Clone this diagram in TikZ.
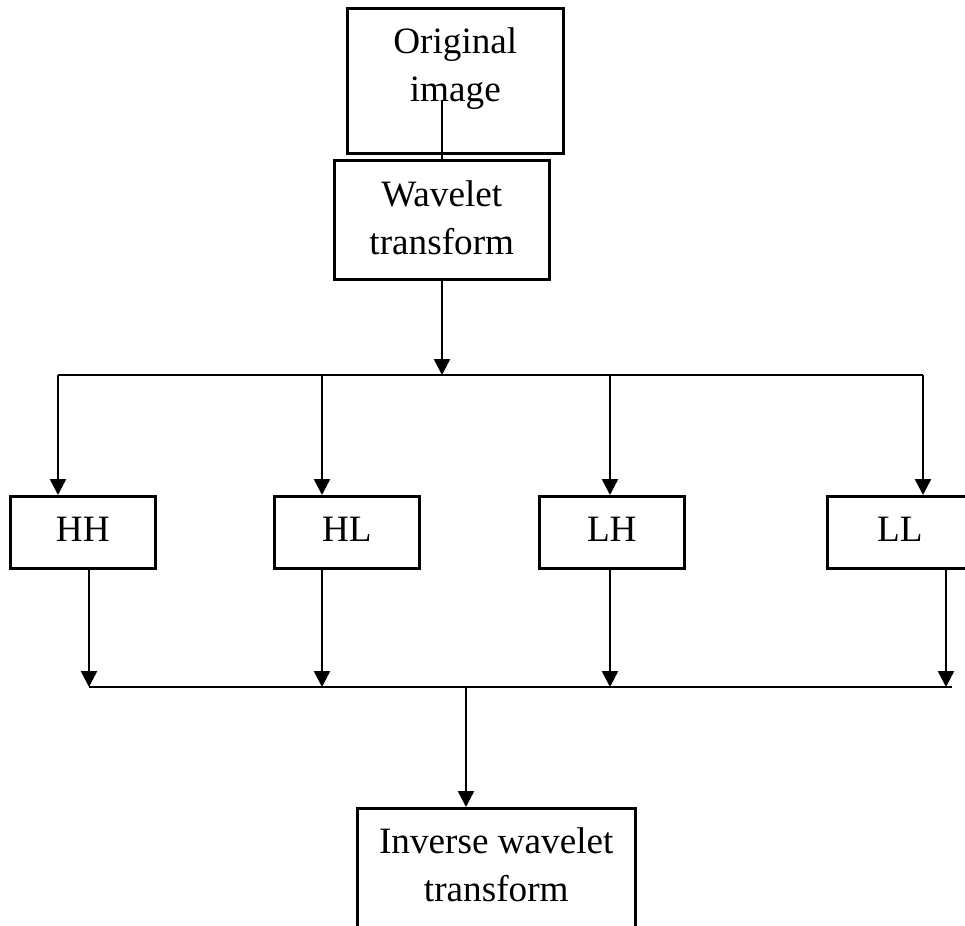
\documentclass[tikz,border=0pt]{standalone}
\usepackage{fontspec}
\setmainfont{Liberation Serif}
\usepackage{tikz}
\usetikzlibrary{arrows.meta,positioning}

\begin{document}
\begin{tikzpicture}[x=0.5pt,y=-0.5pt,line width=1.3pt,
  >={Triangle[length=8pt,width=8pt]},
  block/.style={draw,rectangle,anchor=north west,align=center,inner sep=0pt,
    font=\fontsize{18.6}{24}\selectfont},
  band/.style={block,minimum width=72.5pt,text height=22.5pt,text depth=13.5pt}]
\clip (0,0) rectangle (965,926);

\node[block,minimum width=108pt,text height=46.5pt,text depth=26pt] (orig) at (346,7) {Original\\image};
\node[block,minimum width=107.5pt,text height=47pt,text depth=12.5pt] (wav) at (333,159) {Wavelet\\transform};

\node[band] (hh) at (9,495) {HH};
\node[band] (hl) at (273,495) {HL};
\node[band] (lh) at (538,495) {LH};
\node[band] (ll) at (826,495) {LL};

\node[block,minimum width=139pt,text height=46.5pt,text depth=20pt] (inv) at (356,807) {Inverse wavelet\\transform};

\coordinate (top) at (442,101);
\coordinate (split) at (442,375);
\coordinate (s1) at (58,375);
\coordinate (s2) at (322,375);
\coordinate (s3) at (610,375);
\coordinate (s4) at (923,375);
\coordinate (j1) at (89,687);
\coordinate (j2) at (322,687);
\coordinate (j3) at (610,687);
\coordinate (j4) at (946,687);
\coordinate (jend) at (952,687);
\coordinate (merge) at (466,687);

\draw (top) -- (top |- wav.north);
\draw[->] (split |- wav.south) -- (split);
\draw (s1) -- (s4);
\foreach \s/\b in {s1/hh,s2/hl,s3/lh,s4/ll}
  \draw[->] (\s) -- (\s |- \b.north);
\foreach \b/\j in {hh/j1,hl/j2,lh/j3,ll/j4}
  \draw[->] (\j |- \b.south) -- (\j);
\draw (j1) -- (jend);
\draw[->] (merge) -- (merge |- inv.north);
\end{tikzpicture}
\end{document}
